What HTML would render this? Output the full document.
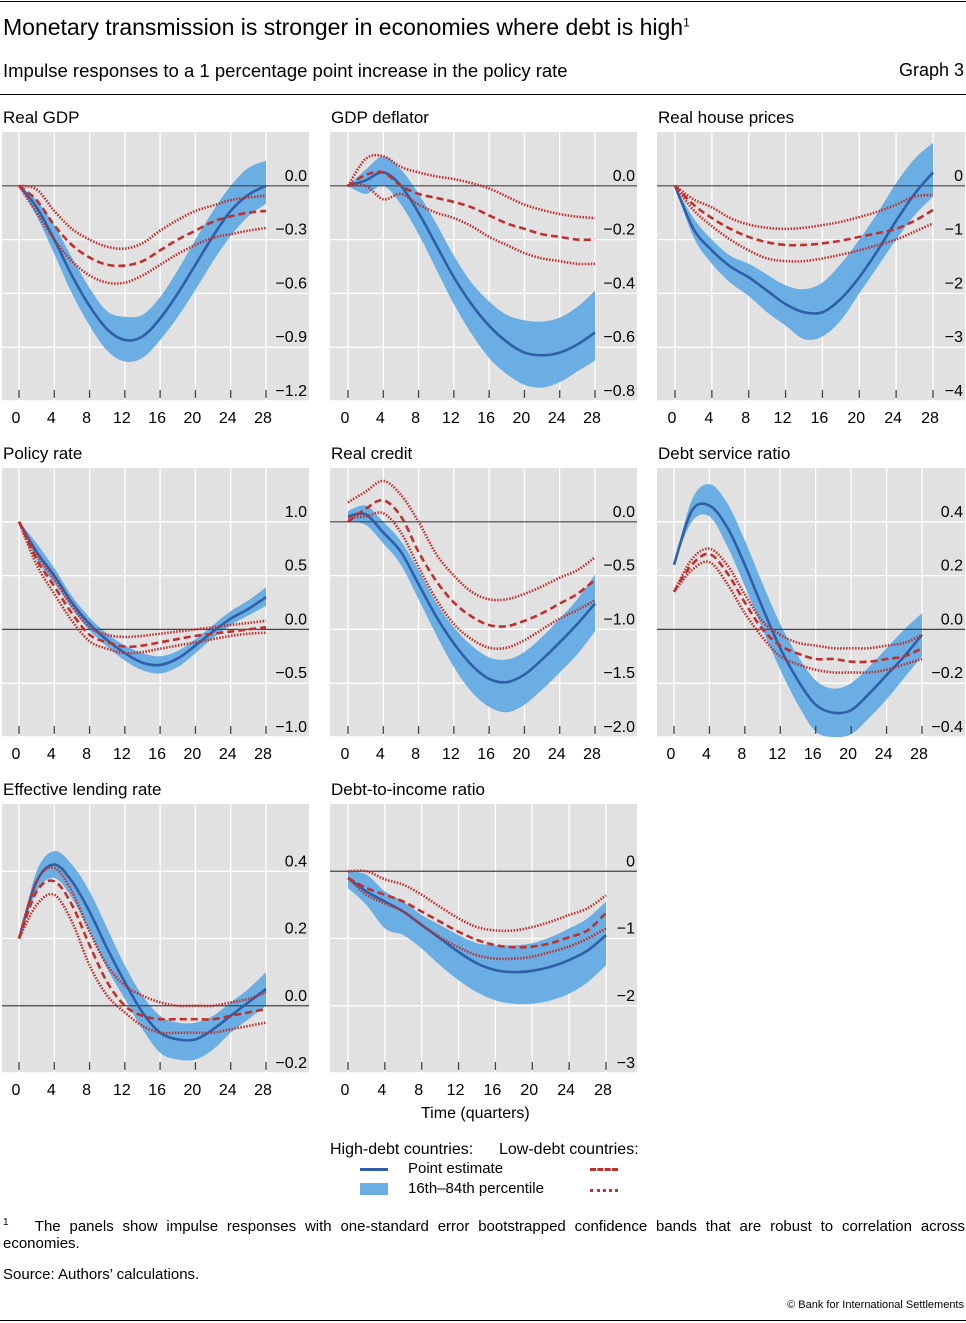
<!DOCTYPE html>
<html><head><meta charset="utf-8">
<style>
body{margin:0;background:#fff;font-family:"Liberation Sans",sans-serif;color:#000;}
#wrap{position:relative;width:966px;height:1323px;overflow:hidden;}
.t{position:absolute;white-space:nowrap;}
</style></head>
<body>
<div id="wrap">
<div class="t" style="left:0;top:1px;width:966px;border-top:1px solid #000;"></div>
<div class="t" style="left:3px;top:14px;font-size:23px;">Monetary transmission is stronger in economies where debt is high<sup style="font-size:12px">1</sup></div>
<div class="t" style="left:3px;top:60px;font-size:18.5px;">Impulse responses to a 1 percentage point increase in the policy rate</div>
<div class="t" style="right:2px;top:60px;font-size:18px;">Graph 3</div>
<div class="t" style="left:0;top:94px;width:966px;border-top:1px solid #000;"></div>
<svg id="svg" width="966" height="1323" style="position:absolute;left:0;top:0"></svg>
<div class="t" style="left:421px;top:1105px;font-size:16px;">Time (quarters)</div>
<div class="t" style="left:330px;top:1141px;font-size:16px;">High-debt countries:</div>
<div class="t" style="left:499px;top:1141px;font-size:16px;">Low-debt countries:</div>
<div class="t" style="left:360px;top:1168px;width:28px;border-top:3px solid #2f5fa8;"></div>
<div class="t" style="left:408px;top:1160px;font-size:15px;">Point estimate</div>
<div class="t" style="left:360px;top:1183px;width:28px;height:12px;background:#6aaee3;"></div>
<div class="t" style="left:408px;top:1180px;font-size:15px;">16th–84th percentile</div>
<div class="t" style="left:590px;top:1168px;width:28px;border-top:3px dashed #c0302e;"></div>
<div class="t" style="left:590px;top:1189px;width:28px;border-top:3px dotted #c0302e;"></div>
<div class="t" style="left:3px;top:1212px;width:962px;font-size:15px;line-height:21px;white-space:normal;text-align:justify;text-align-last:justify;"><sup style="font-size:10px">1</sup>&nbsp;&nbsp; The panels show impulse responses with one-standard error bootstrapped confidence bands that are robust to correlation across</div>
<div class="t" style="left:3px;top:1233px;font-size:15px;line-height:21px;">economies.</div>
<div class="t" style="left:3px;top:1266px;font-size:15px;">Source: Authors’ calculations.</div>
<div class="t" style="right:2px;top:1299px;font-size:11px;">© Bank for International Settlements</div>
<div class="t" style="left:0;top:1320px;width:966px;border-top:1px solid #000;"></div>
</div>
<script>
const quarters=[0,2,4,6,8,10,12,14,16,18,20,22,24,26,28];
const xTicks=[0,4,8,12,16,20,24,28];

const gdpHigh=[0,-0.12,-0.3,-0.5,-0.67,-0.8,-0.86,-0.84,-0.74,-0.6,-0.44,-0.28,-0.14,-0.05,0];
const gdpHighHi=[0,-0.08,-0.22,-0.4,-0.57,-0.7,-0.73,-0.72,-0.62,-0.47,-0.3,-0.14,0,0.1,0.14];
const gdpHighLo=[0,-0.17,-0.38,-0.6,-0.78,-0.92,-0.98,-0.96,-0.86,-0.73,-0.58,-0.42,-0.28,-0.17,-0.1];
const gdpLow=[0,-0.08,-0.22,-0.33,-0.4,-0.44,-0.445,-0.42,-0.36,-0.3,-0.25,-0.2,-0.17,-0.15,-0.14];
const gdpLowHi=[0,-0.02,-0.14,-0.24,-0.3,-0.34,-0.35,-0.32,-0.25,-0.19,-0.14,-0.11,-0.08,-0.065,-0.055];
const gdpLowLo=[0,-0.15,-0.3,-0.42,-0.5,-0.54,-0.54,-0.5,-0.44,-0.38,-0.33,-0.29,-0.27,-0.25,-0.235];
const gdpTicks=[0,-0.3,-0.6,-0.9,-1.2];

const defHigh=[0,0.02,0.05,0,-0.1,-0.22,-0.34,-0.44,-0.52,-0.58,-0.62,-0.63,-0.62,-0.59,-0.545];
const defHighHi=[0,0.06,0.11,0.06,-0.03,-0.14,-0.26,-0.36,-0.43,-0.48,-0.5,-0.505,-0.49,-0.45,-0.39];
const defHighLo=[0,-0.03,0,-0.07,-0.18,-0.31,-0.44,-0.55,-0.64,-0.7,-0.74,-0.75,-0.73,-0.69,-0.65];
const defLow=[0,0.04,0.05,0,-0.03,-0.045,-0.06,-0.08,-0.11,-0.14,-0.16,-0.18,-0.19,-0.2,-0.2];
const defLowHi=[0,0.1,0.11,0.07,0.05,0.035,0.025,0.01,-0.01,-0.04,-0.07,-0.09,-0.105,-0.115,-0.12];
const defLowLo=[0,0,-0.05,-0.03,-0.07,-0.1,-0.12,-0.15,-0.19,-0.22,-0.25,-0.27,-0.28,-0.29,-0.29];
const defTicks=[0,-0.2,-0.4,-0.6,-0.8];

const hpHigh=[0,-0.8,-1.2,-1.5,-1.7,-1.95,-2.2,-2.35,-2.35,-2.1,-1.7,-1.2,-0.65,-0.15,0.25];
const hpHighHi=[0,-0.6,-1.0,-1.3,-1.45,-1.65,-1.85,-1.92,-1.8,-1.45,-1.0,-0.5,0.05,0.5,0.8];
const hpHighLo=[0,-0.95,-1.45,-1.8,-2.05,-2.35,-2.6,-2.85,-2.8,-2.5,-2.0,-1.5,-1.0,-0.55,-0.2];
const hpLow=[0,-0.35,-0.6,-0.8,-0.95,-1.05,-1.1,-1.1,-1.07,-1.02,-0.95,-0.88,-0.8,-0.65,-0.45];
const hpLowHi=[0,-0.25,-0.4,-0.6,-0.72,-0.78,-0.8,-0.78,-0.73,-0.67,-0.58,-0.48,-0.35,-0.2,-0.17];
const hpLowLo=[0,-0.45,-0.75,-1.0,-1.2,-1.35,-1.4,-1.4,-1.35,-1.28,-1.2,-1.1,-1.0,-0.85,-0.7];
const hpTicks=[0,-1,-2,-3,-4];

const prHigh=[1.0,0.72,0.5,0.25,0.05,-0.1,-0.22,-0.31,-0.33,-0.27,-0.15,-0.02,0.1,0.19,0.3];
const prHighHi=[1.0,0.8,0.57,0.31,0.11,-0.04,-0.15,-0.22,-0.25,-0.2,-0.09,0.04,0.17,0.27,0.39];
const prHighLo=[1.0,0.65,0.43,0.19,-0.01,-0.16,-0.29,-0.38,-0.41,-0.35,-0.22,-0.08,0.04,0.13,0.22];
const prLow=[1.0,0.65,0.4,0.15,-0.05,-0.12,-0.16,-0.15,-0.12,-0.09,-0.06,-0.04,-0.02,0,0.02];
const prLowHi=[1.0,0.7,0.47,0.22,0.02,-0.05,-0.07,-0.06,-0.04,-0.02,0,0.02,0.04,0.06,0.08];
const prLowLo=[1.0,0.6,0.33,0.08,-0.11,-0.18,-0.22,-0.21,-0.18,-0.15,-0.12,-0.09,-0.06,-0.04,-0.03];
const prTicks=[1.0,0.5,0,-0.5,-1.0];

const rcHigh=[0.05,0.07,-0.1,-0.28,-0.58,-0.88,-1.13,-1.33,-1.46,-1.49,-1.42,-1.28,-1.12,-0.95,-0.76];
const rcHighHi=[0.1,0.15,0,-0.18,-0.45,-0.75,-0.98,-1.15,-1.26,-1.28,-1.21,-1.07,-0.9,-0.72,-0.49];
const rcHighLo=[0,-0.03,-0.2,-0.4,-0.72,-1.05,-1.35,-1.58,-1.72,-1.77,-1.7,-1.56,-1.4,-1.23,-1.02];
const rcLow=[0,0.12,0.2,0.05,-0.28,-0.55,-0.75,-0.88,-0.96,-0.97,-0.92,-0.85,-0.76,-0.67,-0.54];
const rcLowHi=[0.18,0.28,0.38,0.25,0,-0.3,-0.5,-0.65,-0.72,-0.72,-0.67,-0.6,-0.52,-0.45,-0.33];
const rcLowLo=[0.04,0.05,0.08,-0.1,-0.42,-0.72,-0.95,-1.09,-1.17,-1.17,-1.1,-1.0,-0.9,-0.82,-0.73];
const rcTicks=[0,-0.5,-1.0,-1.5,-2.0];

const dsHigh=[0.24,0.44,0.46,0.38,0.24,0.08,-0.07,-0.19,-0.28,-0.31,-0.3,-0.24,-0.17,-0.1,-0.02];
const dsHighHi=[0.24,0.48,0.54,0.47,0.33,0.17,0.02,-0.1,-0.19,-0.22,-0.2,-0.14,-0.07,0,0.06];
const dsHighLo=[0.24,0.4,0.42,0.31,0.16,0,-0.15,-0.28,-0.38,-0.4,-0.39,-0.33,-0.26,-0.18,-0.1];
const dsLow=[0.14,0.24,0.28,0.21,0.1,0,-0.06,-0.09,-0.11,-0.11,-0.12,-0.12,-0.11,-0.1,-0.07];
const dsLowHi=[0.14,0.26,0.3,0.24,0.13,0.03,-0.02,-0.05,-0.06,-0.07,-0.07,-0.07,-0.06,-0.05,-0.02];
const dsLowLo=[0.14,0.22,0.25,0.17,0.06,-0.03,-0.1,-0.13,-0.15,-0.16,-0.16,-0.16,-0.15,-0.13,-0.11];
const dsTicks=[0.4,0.2,0,-0.2,-0.4];

const lrHigh=[0.2,0.37,0.42,0.37,0.28,0.17,0.07,-0.02,-0.08,-0.1,-0.1,-0.07,-0.03,0.01,0.05];
const lrHighHi=[0.2,0.4,0.46,0.42,0.34,0.23,0.12,0.03,-0.03,-0.05,-0.05,-0.03,0.01,0.05,0.1];
const lrHighLo=[0.2,0.34,0.38,0.32,0.22,0.11,0.02,-0.07,-0.14,-0.16,-0.16,-0.13,-0.08,-0.04,0];
const lrLow=[0.2,0.34,0.37,0.3,0.18,0.07,0,-0.03,-0.04,-0.04,-0.04,-0.04,-0.03,-0.02,-0.01];
const lrLowHi=[0.2,0.37,0.41,0.34,0.22,0.12,0.06,0.03,0.01,0,0,0,0.01,0.02,0.04];
const lrLowLo=[0.2,0.3,0.33,0.25,0.12,0.03,-0.02,-0.06,-0.08,-0.08,-0.08,-0.08,-0.07,-0.06,-0.05];
const lrTicks=[0.4,0.2,0,-0.2];

const dtHigh=[-0.1,-0.3,-0.45,-0.6,-0.8,-1.0,-1.2,-1.37,-1.47,-1.5,-1.48,-1.42,-1.32,-1.18,-0.95];
const dtHighHi=[0,-0.05,-0.3,-0.45,-0.65,-0.8,-0.95,-1.07,-1.1,-1.1,-1.07,-0.98,-0.85,-0.7,-0.45];
const dtHighLo=[-0.25,-0.5,-0.85,-0.95,-1.15,-1.4,-1.62,-1.8,-1.92,-1.97,-1.97,-1.92,-1.82,-1.65,-1.4];
const dtLow=[-0.1,-0.25,-0.35,-0.45,-0.6,-0.75,-0.9,-1.02,-1.1,-1.13,-1.12,-1.07,-0.98,-0.88,-0.62];
const dtLowHi=[0,0,-0.12,-0.2,-0.35,-0.53,-0.7,-0.83,-0.88,-0.88,-0.83,-0.75,-0.65,-0.55,-0.36];
const dtLowLo=[-0.1,-0.35,-0.48,-0.6,-0.8,-0.98,-1.13,-1.25,-1.3,-1.3,-1.27,-1.2,-1.12,-1.0,-0.85];
const dtTicks=[0,-1,-2,-3];

const panels=[
 {name:'real-gdp',title:'Real GDP',bx:2,bw:307,top:132,h:269,x0:19,x28:266,ymin:-1.2,ymax:0.3,ticks:gdpTicks,dec:1,s:[gdpHigh,gdpHighLo,gdpHighHi,gdpLow,gdpLowLo,gdpLowHi]},
 {name:'gdp-deflator',title:'GDP deflator',bx:330,bw:307,top:132,h:269,x0:348,x28:595,ymin:-0.8,ymax:0.2,ticks:defTicks,dec:1,s:[defHigh,defHighLo,defHighHi,defLow,defLowLo,defLowHi]},
 {name:'real-house-prices',title:'Real house prices',bx:657,bw:308,top:132,h:269,x0:675,x28:933,ymin:-4,ymax:1,ticks:hpTicks,dec:0,s:[hpHigh,hpHighLo,hpHighHi,hpLow,hpLowLo,hpLowHi]},
 {name:'policy-rate',title:'Policy rate',bx:2,bw:307,top:468,h:269,x0:19,x28:266,ymin:-1,ymax:1.5,ticks:prTicks,dec:1,s:[prHigh,prHighLo,prHighHi,prLow,prLowLo,prLowHi]},
 {name:'real-credit',title:'Real credit',bx:330,bw:307,top:468,h:269,x0:348,x28:595,ymin:-2,ymax:0.5,ticks:rcTicks,dec:1,s:[rcHigh,rcHighLo,rcHighHi,rcLow,rcLowLo,rcLowHi]},
 {name:'debt-service-ratio',title:'Debt service ratio',bx:657,bw:308,top:468,h:269,x0:674,x28:922,ymin:-0.4,ymax:0.6,ticks:dsTicks,dec:1,s:[dsHigh,dsHighLo,dsHighHi,dsLow,dsLowLo,dsLowHi]},
 {name:'effective-lending-rate',title:'Effective lending rate',bx:2,bw:307,top:804,h:269,x0:19,x28:266,ymin:-0.2,ymax:0.6,ticks:lrTicks,dec:1,s:[lrHigh,lrHighLo,lrHighHi,lrLow,lrLowLo,lrLowHi]},
 {name:'debt-to-income-ratio',title:'Debt-to-income ratio',bx:330,bw:307,top:804,h:269,x0:348,x28:606,ymin:-3,ymax:1,ticks:dtTicks,dec:0,s:[dtHigh,dtHighLo,dtHighHi,dtLow,dtLowLo,dtLowHi]}
];
const NS='http://www.w3.org/2000/svg';
const svg=document.getElementById('svg');
function mk(tag,attrs,parent){const e=document.createElementNS(NS,tag);for(const k in attrs)e.setAttribute(k,attrs[k]);(parent||svg).appendChild(e);return e;}
function smooth(pts,start){let d=start?'M'+pts[0][0]+','+pts[0][1]:'L'+pts[0][0]+','+pts[0][1];
 for(let i=0;i<pts.length-1;i++){const p0=pts[Math.max(i-1,0)],p1=pts[i],p2=pts[i+1],p3=pts[Math.min(i+2,pts.length-1)];
  d+=' C'+(p1[0]+(p2[0]-p0[0])/6)+','+(p1[1]+(p2[1]-p0[1])/6)+' '+(p2[0]-(p3[0]-p1[0])/6)+','+(p2[1]-(p3[1]-p1[1])/6)+' '+p2[0]+','+p2[1];}
 return d;}
function fmt(v,dec){const s=Math.abs(v).toFixed(dec);return (v<0?'−':'')+s;}
panels.forEach(p=>{
 const g=mk('g',{});
 
 
 const X=q=>p.x0+(p.x28-p.x0)*q/28;
 const Y=v=>p.top+p.h*(p.ymax-v)/(p.ymax-p.ymin);
 const tt=mk('text',{x:p.bx+1,y:p.top-9,'font-size':17,'font-family':'Liberation Sans, sans-serif'},g);
 tt.textContent=p.title;
 
 
 const bg=mk('rect',{x:p.bx,y:p.top,width:p.bw,height:p.h,fill:'#e1e1e1'},g);
 
 
 xTicks.forEach(q=>{const l=mk('line',{x1:X(q),x2:X(q),y1:p.top,y2:p.top+p.h,stroke:'#fff','stroke-width':1.3},g);
  
  });
 p.ticks.forEach(v=>{if(v!==0){const l=mk('line',{x1:p.bx,x2:p.bx+p.bw,y1:Y(v),y2:Y(v),stroke:'#fff','stroke-width':1.3},g);
  
  }});
 const [h,hl,hh,lo,ll,lh]=p.s;
 const up=quarters.map((q,i)=>[X(q),Y(hh[i])]);
 const dn=quarters.map((q,i)=>[X(q),Y(hl[i])]).reverse();
 const band=mk('path',{d:smooth(up,true)+' '+smooth(dn,false)+' Z',fill:'#6aaee3'},g);
 
 
 const zl=mk('line',{x1:p.bx,x2:p.bx+p.bw,y1:Y(0),y2:Y(0),stroke:'#444','stroke-width':1.2},g);
 
 
 const line=(arr,attrs,nm)=>{const e=mk('path',Object.assign({d:smooth(quarters.map((q,i)=>[X(q),Y(arr[i])]),true),fill:'none'},attrs),g);
  
  };
 line(h,{stroke:'#2f5fa8','stroke-width':2.6},p.name+'-high-debt-estimate');
 line(lo,{stroke:'#c0302e','stroke-width':2.6,'stroke-dasharray':'7,4'},p.name+'-low-debt-estimate');
 line(lh,{stroke:'#c0302e','stroke-width':2.6,'stroke-dasharray':'1.5,1.5'},p.name+'-low-debt-upper');
 line(ll,{stroke:'#c0302e','stroke-width':2.6,'stroke-dasharray':'1.5,1.5'},p.name+'-low-debt-lower');
 xTicks.forEach(q=>{const tk=mk('line',{x1:X(q),x2:X(q),y1:p.top+p.h-11,y2:p.top+p.h-3,stroke:'#444','stroke-width':1.3},g);
  
  
  const t=mk('text',{x:X(q)-3,y:p.top+p.h+22,'font-size':16,'text-anchor':'middle','font-family':'Liberation Sans, sans-serif'},g);
  t.textContent=q;
  
  });
 p.ticks.forEach(v=>{const t=mk('text',{x:p.bx+p.bw-2,y:Y(v)-5,'font-size':16,'text-anchor':'end','font-family':'Liberation Sans, sans-serif'},g);
  t.textContent=fmt(v,p.dec);
  
  });
});
</script>
</body></html>
